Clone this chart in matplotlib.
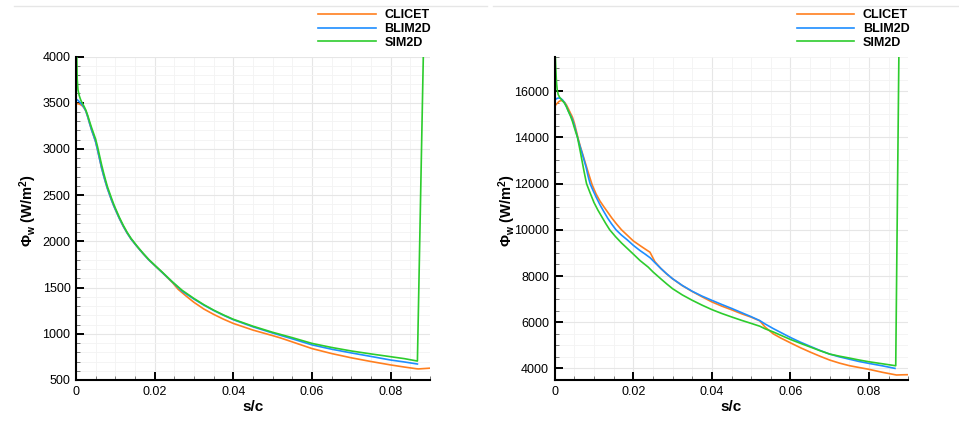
import matplotlib
matplotlib.use("Agg")
import matplotlib.pyplot as plt
from matplotlib.ticker import MultipleLocator, FuncFormatter
from matplotlib.lines import Line2D

plt.rcParams['font.family'] = ['Liberation Sans', 'DejaVu Sans']
plt.rcParams['mathtext.fontset'] = 'custom'
plt.rcParams['mathtext.rm'] = 'Liberation Sans'
plt.rcParams['mathtext.bf'] = 'Liberation Sans:bold'
plt.rcParams['mathtext.it'] = 'Liberation Sans:italic'

# ---------------- data: left panel ----------------
left_clicet_s = [0, 0.0005, 0.001, 0.0015, 0.002, 0.0025, 0.003, 0.0035, 0.004, 0.0045, 0.005,
                 0.0055, 0.006, 0.0065, 0.007, 0.0075, 0.008, 0.009, 0.0095, 0.01, 0.011, 0.012,
                 0.013, 0.014, 0.0155, 0.017, 0.0185, 0.02, 0.022, 0.0245, 0.026, 0.028, 0.03,
                 0.0325, 0.035, 0.0375, 0.04, 0.045, 0.05, 0.052, 0.055, 0.06, 0.065, 0.07,
                 0.075, 0.08, 0.0835, 0.0865, 0.087, 0.0875, 0.09]
left_clicet_v = [3490, 3490, 3482, 3470, 3448, 3410, 3345, 3270, 3200, 3140, 3075,
                 2985, 2890, 2795, 2715, 2640, 2570, 2450, 2395, 2345, 2250, 2165,
                 2090, 2025, 1945, 1870, 1800, 1740, 1660, 1555, 1480, 1408, 1340,
                 1268, 1210, 1158, 1112, 1040, 980, 955, 912, 840, 786, 740,
                 700, 663, 640, 622, 620, 621, 628]

left_blim_s = [0, 0.0005, 0.001, 0.0015, 0.002, 0.0025, 0.003, 0.0035, 0.004, 0.0045, 0.005,
               0.0055, 0.006, 0.0065, 0.007, 0.0075, 0.008, 0.009, 0.0095, 0.01, 0.011, 0.012,
               0.013, 0.014, 0.0155, 0.017, 0.0185, 0.02, 0.022, 0.0245, 0.027, 0.03, 0.0325,
               0.035, 0.0375, 0.04, 0.045, 0.05, 0.055, 0.06, 0.065, 0.07, 0.075, 0.08,
               0.0835, 0.0868]
left_blim_v = [3540, 3525, 3505, 3480, 3450, 3410, 3345, 3270, 3200, 3140, 3075,
               2985, 2890, 2795, 2715, 2640, 2570, 2450, 2395, 2345, 2250, 2165,
               2090, 2025, 1945, 1870, 1800, 1740, 1660, 1560, 1460, 1375, 1310,
               1252, 1200, 1152, 1075, 1008, 945, 880, 833, 793, 755, 716,
               695, 673]

left_sim_s = [0.0001, 0.0002, 0.0003, 0.0005, 0.0008, 0.0012, 0.0016, 0.002, 0.0025, 0.003,
              0.0035, 0.004, 0.0045, 0.005, 0.0055, 0.006, 0.0065, 0.007, 0.0075, 0.008, 0.009,
              0.0095, 0.01, 0.011, 0.012, 0.013, 0.014, 0.0155, 0.017, 0.0185, 0.02, 0.022,
              0.0245, 0.027, 0.03, 0.0325, 0.035, 0.0375, 0.04, 0.045, 0.05, 0.055, 0.06,
              0.065, 0.07, 0.075, 0.08, 0.0835, 0.0868, 0.0883, 0.0885]
left_sim_v = [4300, 4000, 3760, 3640, 3580, 3530, 3495, 3465, 3420, 3360,
              3290, 3225, 3165, 3105, 3020, 2925, 2830, 2745, 2665, 2590, 2470,
              2412, 2360, 2262, 2175, 2098, 2032, 1950, 1874, 1804, 1743, 1664,
              1562, 1470, 1382, 1315, 1256, 1204, 1157, 1082, 1016, 958, 896,
              852, 814, 782, 752, 731, 705, 4000, 4300]

# ---------------- data: right panel ----------------
right_clicet_s = [0, 0.0005, 0.001, 0.0015, 0.002, 0.0025, 0.003, 0.0035, 0.004, 0.0045, 0.005,
                  0.0055, 0.006, 0.0065, 0.007, 0.0075, 0.008, 0.0085, 0.009, 0.0095, 0.0105,
                  0.0115, 0.0125, 0.0135, 0.0145, 0.0157, 0.017, 0.0185, 0.02, 0.0217, 0.023,
                  0.02425, 0.0255, 0.027, 0.0285, 0.03, 0.0325, 0.035, 0.0375, 0.04, 0.0425,
                  0.045, 0.0475, 0.05, 0.0522, 0.0535, 0.0556, 0.0575, 0.06, 0.0625, 0.065,
                  0.0675, 0.07, 0.0725, 0.075, 0.0775, 0.08, 0.0835, 0.087, 0.0885, 0.09]
right_clicet_v = [15350, 15450, 15540, 15590, 15590, 15520, 15400, 15230, 15050, 14880, 14620,
                  14280, 13930, 13620, 13340, 13060, 12780, 12500, 12230, 11960, 11560,
                  11250, 11000, 10760, 10520, 10260, 10000, 9760, 9520, 9319, 9170,
                  9030, 8620, 8330, 8090, 7880, 7580, 7330, 7100, 6880, 6700,
                  6540, 6370, 6220, 6060, 5800, 5500, 5320, 5108, 4900, 4710,
                  4530, 4362, 4230, 4120, 4040, 3961, 3830, 3716, 3725, 3730]

right_blim_s = [0, 0.0005, 0.001, 0.0015, 0.002, 0.0025, 0.003, 0.0035, 0.004, 0.0045, 0.005,
                0.0055, 0.006, 0.0065, 0.007, 0.0075, 0.008, 0.0085, 0.009, 0.0095, 0.0105,
                0.0115, 0.0125, 0.0135, 0.0145, 0.0156, 0.017, 0.0185, 0.02, 0.0217, 0.023,
                0.0243, 0.0255, 0.027, 0.0285, 0.03, 0.0325, 0.035, 0.0375, 0.04, 0.0425,
                0.045, 0.0475, 0.05, 0.0522, 0.0535, 0.0556, 0.0575, 0.06, 0.0625, 0.065,
                0.0675, 0.07, 0.0725, 0.075, 0.0775, 0.08, 0.0835, 0.0866]
right_blim_v = [15612, 15680, 15705, 15690, 15620, 15500, 15330, 15130, 14960, 14780, 14520,
                14200, 13880, 13580, 13300, 13000, 12700, 12320, 12000, 11800, 11430,
                11090, 10790, 10500, 10250, 10000, 9770, 9560, 9330, 9103, 8950,
                8788, 8580, 8330, 8095, 7883, 7590, 7340, 7130, 6948, 6770,
                6600, 6420, 6240, 6070, 5930, 5728, 5560, 5340, 5140, 4960,
                4780, 4621, 4500, 4400, 4300, 4218, 4110, 4003]

right_sim_s = [0.0001, 0.0002, 0.0003, 0.0004, 0.0005, 0.00066, 0.0009, 0.0013, 0.0018, 0.0025,
               0.003, 0.0035, 0.004, 0.0045, 0.005, 0.0058, 0.0065, 0.007, 0.0075, 0.0081,
               0.009, 0.01, 0.011, 0.012, 0.013, 0.014, 0.0155, 0.017, 0.0185, 0.02, 0.0217,
               0.0238, 0.025, 0.027, 0.0285, 0.03, 0.0325, 0.035, 0.0375, 0.04, 0.0425,
               0.045, 0.0475, 0.05, 0.0522, 0.0535, 0.0556, 0.0575, 0.06, 0.0625, 0.065,
               0.0675, 0.07, 0.0725, 0.075, 0.0775, 0.08, 0.0835, 0.0868, 0.0876, 0.0877]
right_sim_v = [17800, 17300, 16900, 16550, 16300, 16030, 15850, 15720, 15620, 15480,
               15320, 15120, 14930, 14700, 14420, 14000, 13400, 12950, 12500, 12000,
               11600, 11180, 10850, 10560, 10270, 10000, 9700, 9430, 9190, 8950, 8672,
               8385, 8180, 7880, 7660, 7452, 7180, 6950, 6740, 6547, 6380,
               6230, 6085, 5950, 5828, 5720, 5582, 5440, 5254, 5090, 4930,
               4770, 4621, 4530, 4450, 4365, 4289, 4200, 4116, 17500, 18000]

series_names = ['CLICET', 'BLIM2D', 'SIM2D']
series_colors = ['#ff7f1f', '#1e8eff', '#2dcc2d']

x_ticks = [0, 0.02, 0.04, 0.06, 0.08]
left_yticks = [500, 1000, 1500, 2000, 2500, 3000, 3500, 4000]
right_yticks = [4000, 6000, 8000, 10000, 12000, 14000, 16000]

xlabel = 's/c'
ylabel = r'$\mathbf{Φ_w}$ $\mathbf{(W/m^2)}$'

# ---------------- figure ----------------
W, H = 959, 421
fig = plt.figure(figsize=(W / 100, H / 100), dpi=100)

ax_l = fig.add_axes([76 / W, 1 - 380 / H, (430 - 76) / W, (380 - 56.5) / H])
ax_r = fig.add_axes([554.7 / W, 1 - 380 / H, (908.3 - 554.7) / W, (380 - 56.5) / H])

panels = [
    (ax_l, [(left_clicet_s, left_clicet_v), (left_blim_s, left_blim_v), (left_sim_s, left_sim_v)],
     (500, 4000), left_yticks, 100, 39 / W, 318 / W),
    (ax_r, [(right_clicet_s, right_clicet_v), (right_blim_s, right_blim_v), (right_sim_s, right_sim_v)],
     (3500, 17500), right_yticks, 500, 517.5 / W, 796.5 / W),
]

for ax, data, ylim, yticks, yminor, ylab_x, leg_x in panels:
    handles = []
    for (s, v), name, col in zip(data, series_names, series_colors):
        h, = ax.plot(s, v, color=col, lw=1.2, label=name, solid_joinstyle='round')
        handles.append(h)
    ax.set_xlim(0, 0.09)
    ax.set_ylim(*ylim)
    ax.set_xticks(x_ticks)
    ax.set_yticks(yticks)
    ax.xaxis.set_minor_locator(MultipleLocator(0.005))
    ax.yaxis.set_minor_locator(MultipleLocator(yminor))
    ax.xaxis.set_major_formatter(FuncFormatter(lambda x, p: f"{x:g}"))
    ax.grid(which='major', color='#e6e6e6', lw=0.8)
    ax.grid(which='minor', color='#f3f3f3', lw=0.6)
    ax.set_axisbelow(True)
    for sp in ['top', 'right']:
        ax.spines[sp].set_visible(False)
    for sp in ['left', 'bottom']:
        ax.spines[sp].set_linewidth(1.5)
        ax.spines[sp].set_color('black')
    ax.tick_params(which='major', direction='in', length=5.5, width=1.4, color='black',
                   labelsize=9, pad=4)
    ax.tick_params(which='minor', direction='in', length=3, width=0.7, color='#777777')
    ax.tick_params(axis='y', which='both', right=False)
    ax.tick_params(axis='x', which='both', top=False)
    ax.set_xlabel(xlabel, fontsize=11, fontweight='bold', labelpad=2)
    ax.set_ylabel(ylabel, fontsize=10.5)
    ax.yaxis.set_label_coords(ylab_x, 0.5, transform=fig.transFigure)
    leg = ax.legend(handles=handles, loc='upper left',
                    bbox_to_anchor=(leg_x, 1 - 9.5 / H), bbox_transform=fig.transFigure,
                    frameon=True, fancybox=False, borderpad=0.0, handlelength=4.6,
                    handletextpad=0.7, labelspacing=0.12, borderaxespad=0,
                    prop={'weight': 'bold', 'size': 9})
    leg.get_frame().set_facecolor('white')
    leg.get_frame().set_edgecolor('none')
    leg.get_frame().set_alpha(1)
    for lh in leg.get_lines():
        lh.set_linewidth(1.2)

# faint panel frame lines at the top
fig.add_artist(Line2D([14 / W, 487 / W], [1 - 6 / H, 1 - 6 / H], color='#e6e6e6', lw=1.0, zorder=-1))
fig.add_artist(Line2D([493 / W, 1.0], [1 - 6 / H, 1 - 6 / H], color='#e6e6e6', lw=1.0, zorder=-1))

fig.savefig('out.png', dpi=100)
